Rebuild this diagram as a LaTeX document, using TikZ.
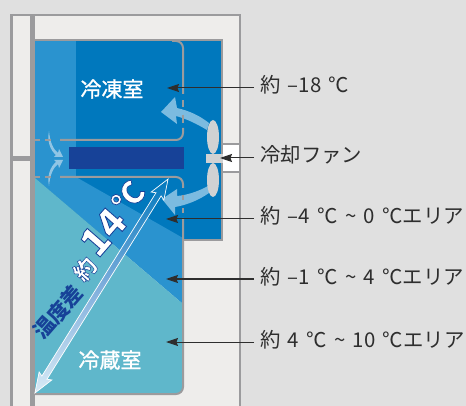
\documentclass[tikz,border=0pt]{standalone}
\usepackage{fontspec}
\setmainfont{Noto Sans CJK JP}[WordSpace=1.6]
\newfontface\roomface{Noto Sans CJK JP}[FakeBold=1.2]
\newfontface\strokedface{Noto Sans CJK JP Black}[FakeBold=2.2]
\usetikzlibrary{arrows.meta}

\definecolor{pagegray}{HTML}{E0E0E0}
\definecolor{wallgray}{HTML}{9B9B9D}
\definecolor{cabinet}{HTML}{EEEDEB}
\definecolor{coldblue}{HTML}{0078BD}
\definecolor{midblue}{HTML}{2A93CF}
\definecolor{chillteal}{HTML}{5FB7CB}
\definecolor{coilnavy}{HTML}{174298}
\definecolor{airblue}{HTML}{7CBBE0}
\definecolor{fangray}{HTML}{D0D2D3}
\definecolor{labelink}{HTML}{2E2E2E}
\definecolor{spanmid}{HTML}{7FAEDC}

%white fill, navy stroke
\newcommand{\strokedtext}[1]{\special{pdf:bcolor [1 1 1] [0.09 0.26 0.6]}#1\special{pdf:ecolor}}

\tikzset{
    wall/.style={wallgray, line width=2pt},
    leader/.style={labelink, line width=1pt, -{Stealth[length=12pt, width=8pt, inset=1.5pt]}},
    arealabel/.style={anchor=west, inner xsep=6pt, inner ysep=0pt, text height=14pt, text depth=4pt, text=labelink, font=\fontsize{20.4}{22}\selectfont},
    roomlabel/.style={text=white, inner sep=0pt, font=\roomface\fontsize{21}{24}\selectfont},
    alongarrow/.style={inner sep=0pt, rotate=49}
}

\begin{document}
\begin{tikzpicture}[x=1pt, y=-1pt]
            \useasboundingbox (0,0) rectangle (466,406);
            \fill[pagegray] (0,0) rectangle (466,406);
            \clip (0,0) rectangle (466,406);

            %cabinet
            \fill[cabinet] (11.5,15) rectangle (240,406);
            \draw[wallgray, line width=2.5pt] (11.5,406)--(11.5,15)--(240,15)--(240,406);
            \fill[wallgray] (30,15) rectangle (35,406);
            \fill[wallgray] (12,156) rectangle (30,161);

            %compartments
            \fill[coldblue] (35,41) rectangle (222,240);
            \fill[midblue] (35,41) rectangle (76,178);
            \fill[midblue] (35,178)--(76,177)--(183,238)--(183,304)--cycle;
            \fill[chillteal] (35,178)--(183,304)[rounded corners=7pt]--(183,394)[sharp corners]--(35,394)--cycle;
            \fill[coilnavy] (69,147) rectangle (184,169);

            %duct edge
            \draw[wall] (183,240)--(222,240)--(222,40)--(35,40);

            %air from the fan
            \fill[airblue] (161,112)--(175,97)--(177,108) .. controls (190,111) and (200,116) .. (209,123)
                --(207,130) .. controls (197,124) and (187,119) .. (176,116)--(177,124)--cycle;
            \fill[airblue] (162,199)--(177,189)--(177,196) .. controls (188,195) and (199,191) .. (208,186)
                --(209,193) .. controls (199,200) and (187,205) .. (175,207)--(175,215)--cycle;

            %air along the coil
            \fill[airblue!85!white] (49,131) .. controls (50,142) and (53,149) .. (58,153)--(59,149)--(63,157)--(54,157)--(56,155)
                .. controls (50,150) and (47,141) .. (49,131)--cycle;
            \fill[airblue!85!white] (49,186) .. controls (50,175) and (53,168) .. (58,164)--(59,168)--(63,160)--(54,160)--(56,162)
                .. controls (50,167) and (47,176) .. (49,186)--cycle;

            %fan
            \fill[fangray] (213,137) ellipse (6pt and 17pt);
            \fill[fangray] (213,180) ellipse (6pt and 17pt);
            \fill[fangray] (206,154) rectangle (222.5,163);

            %fan opening
            \fill[white] (223,144) rectangle (239,172);
            \draw[wall] (222,144)--(239,144);
            \draw[wall] (222,172.5)--(239,172.5);

            %compartment edges, dashed by hand
            \draw[wall, rounded corners=7pt] (172,41)--(183,41)--(183,94);
            \draw[wall] (183,100)--(183,107);
            \draw[wall] (183,115)--(183,123);
            \draw[wall, rounded corners=7pt] (183,128)--(183,140)--(60,140);
            \draw[wall] (35,140)--(40,140);
            \draw[wall] (45,140)--(51,140);
            \draw[wall] (35,177)--(40,177);
            \draw[wall] (45,177)--(51,177);
            \draw[wall, rounded corners=7pt] (60,177)--(183,177)--(183,188);
            \draw[wall] (183,195)--(183,200);
            \draw[wall] (183,208)--(183,213);
            \draw[wall, rounded corners=7pt] (183,218)--(183,394)--(35,394);

            %temperature span arrow
            \begin{scope}[shift={(101.5,286)}, rotate=58.1]
                \draw[white, line width=0.7pt, bottom color=white!70!airblue, top color=coldblue, middle color=spanmid, shading angle=0]
                    (-126,0)--(-106,7.5)--(-108,3)--(108,3)--(106,7.5)--(126,0)--(106,-7.5)--(108,-3)--(-108,-3)--(-106,-7.5)--cycle;
            \end{scope}

            %rooms
            \node[roomlabel] (freezer) at (112,89) {冷凍室};
            \node[roomlabel] (fridge) at (110,360) {冷蔵室};

            %text along the arrow
            \node[alongarrow, text=coilnavy, font=\fontsize{21}{24}\selectfont\bfseries] (spanword) at (58,312) {温度差};
            \node[alongarrow, font=\strokedface\fontsize{22}{24}\selectfont] (spanabout) at (85,269) {\strokedtext{約}};
            \node[alongarrow, font=\strokedface\fontsize{39}{44}\selectfont] (spanvalue) at (103,232) {\strokedtext{14}};
            \node[alongarrow, font=\strokedface\fontsize{31}{32}\selectfont] (spanunit) at (128,197) {\strokedtext{℃}};

            %labels and their leaders
            \coordinate (freezerpoint) at (167,88);
            \coordinate (fanpoint) at (220,158);
            \coordinate (softpoint) at (166,219);
            \coordinate (chilledpoint) at (166,279);
            \coordinate (fridgepoint) at (166,342);

            \node[arealabel] (freezerlabel) at (254,88) {約 –18 ℃};
            \node[arealabel] (fanlabel) at (254,158) {冷却ファン};
            \node[arealabel] (softlabel) at (254,219) {約 –4 ℃ \char`\~\ 0 ℃エリア};
            \node[arealabel] (chilledlabel) at (254,279) {約 –1 ℃ \char`\~\ 4 ℃エリア};
            \node[arealabel] (fridgelabel) at (254,342) {約 4 ℃ \char`\~\ 10 ℃エリア};

            \draw[leader] (freezerlabel.west)--(freezerpoint);
            \draw[leader] (fanlabel.west)--(fanpoint);
            \draw[leader] (softlabel.west)--(softpoint);
            \draw[leader] (chilledlabel.west)--(chilledpoint);
            \draw[leader] (fridgelabel.west)--(fridgepoint);
        \end{tikzpicture}
\end{document}
